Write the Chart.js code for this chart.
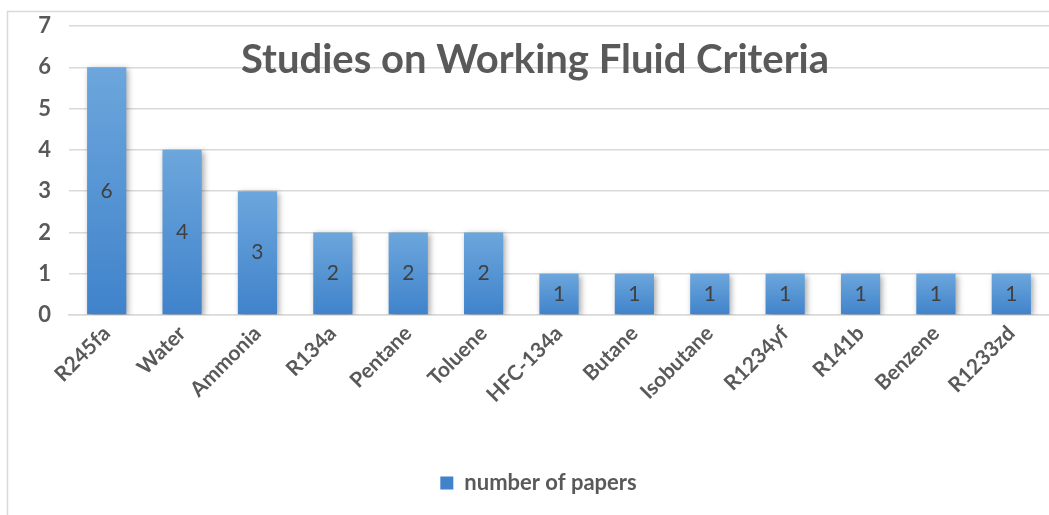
<!DOCTYPE html>
<html>
<head>
<meta charset="utf-8">
<script src="https://cdn.jsdelivr.net/npm/chart.js@4.4.1/dist/chart.umd.min.js"></script>
<style>
  html, body { margin: 0; padding: 0; background: #fff; }
  #wrap { width: 1049px; height: 515px; position: relative; }
</style>
</head>
<body>
<div id="wrap"><canvas id="chart"></canvas></div>
<script>
// Chart data
const fluids = ['R245fa', 'Water', 'Ammonia', 'R134a', 'Pentane', 'Toluene', 'HFC-134a',
    'Butane', 'Isobutane', 'R1234yf', 'R141b', 'Benzene', 'R1233zd'];
const papers = [6, 4, 3, 2, 2, 2, 1, 1, 1, 1, 1, 1, 1];
const seriesName = 'number of papers';
const chartTitle = 'Studies on Working Fluid Criteria';

const FONT = 'Lato, "Open Sans", sans-serif';
const GREY = '#595959';

// bar fill: lighter at the top, darker at the base
function barFill(c) {
    if (c.type !== 'data') return '#5B9BD5';
    const y = c.chart.scales.y;
    if (!y) return '#5B9BD5';
    const top = y.getPixelForValue(papers[c.dataIndex]);
    const bottom = y.getPixelForValue(0);
    if (!isFinite(top) || !isFinite(bottom) || top === bottom) return '#5B9BD5';
    const g = c.chart.ctx.createLinearGradient(0, top, 0, bottom);
    g.addColorStop(0, '#6CA6DC');
    g.addColorStop(1, '#4083CB');
    return g;
}

// outer frame + title drawn inside the plot
const framePlugin = {
    id: 'frame',
    beforeDraw(chart) {
        const ctx = chart.ctx;
        ctx.save();
        ctx.strokeStyle = '#d9d9d9';
        ctx.lineWidth = 1.5;
        ctx.strokeRect(7.5, 11.5, 1200, 700);
        ctx.restore();
    },
    afterDraw(chart) {
        const ctx = chart.ctx;
        ctx.save();
        ctx.font = 'bold 40px ' + FONT;
        ctx.fillStyle = GREY;
        ctx.textAlign = 'center';
        ctx.textBaseline = 'middle';
        ctx.fillText(chartTitle, 535, 60);
        ctx.restore();
    }
};

// soft shadow behind bars
const shadowPlugin = {
    id: 'barShadow',
    beforeDatasetsDraw(chart) {
        const ctx = chart.ctx;
        ctx.save();
        ctx.shadowColor = 'rgba(0,0,0,0.35)';
        ctx.shadowBlur = 6;
        ctx.shadowOffsetX = 2;
        ctx.shadowOffsetY = 2;
    },
    afterDatasetsDraw(chart) {
        chart.ctx.restore();
    }
};

// value labels centred in each bar
const valueLabels = {
    id: 'valueLabels',
    afterDatasetsDraw(chart) {
        const ctx = chart.ctx;
        const meta = chart.getDatasetMeta(0);
        ctx.save();
        ctx.font = '21px ' + FONT;
        ctx.fillStyle = '#404040';
        ctx.textAlign = 'center';
        ctx.textBaseline = 'middle';
        meta.data.forEach((bar, i) => {
            ctx.fillText(String(papers[i]), bar.x, (bar.y + bar.base) / 2);
        });
        ctx.restore();
    }
};

new Chart(document.getElementById('chart'), {
    type: 'bar',
    data: {
        labels: fluids,
        datasets: [{
            label: seriesName,
            data: papers,
            backgroundColor: barFill,
            borderWidth: 0,
            barPercentage: 0.52,
            categoryPercentage: 1
        }]
    },
    options: {
        responsive: true,
        maintainAspectRatio: false,
        animation: false,
        layout: { padding: { top: 26, left: 28, right: 0, bottom: 11 } },
        plugins: {
            title: { display: false },
            tooltip: { enabled: false },
            legend: {
                position: 'bottom',
                labels: {
                    color: GREY,
                    boxWidth: 13,
                    boxHeight: 13,
                    padding: 10,
                    font: { family: FONT, size: 22, weight: 'bold' }
                }
            }
        },
        scales: {
            y: {
                min: 0,
                max: 7,
                ticks: {
                    stepSize: 1,
                    color: GREY,
                    padding: 18,
                    font: { family: FONT, size: 22, weight: 'bold' }
                },
                grid: { color: '#d9d9d9', lineWidth: 1.5, drawTicks: false },
                border: { display: false },
                afterFit(scale) {
                    scale.width = 41;
                    scale.paddingTop = 0;
                    scale.paddingBottom = 0;
                }
            },
            x: {
                ticks: {
                    color: GREY,
                    maxRotation: 45,
                    minRotation: 45,
                    padding: 6,
                    font: { family: FONT, size: 21, weight: 'bold' }
                },
                grid: { display: false, drawTicks: false },
                border: { color: '#d9d9d9', width: 1.5 },
                afterFit(scale) { scale.height = 147; }
            }
        }
    },
    plugins: [framePlugin, shadowPlugin, valueLabels]
});
</script>
</body>
</html>
